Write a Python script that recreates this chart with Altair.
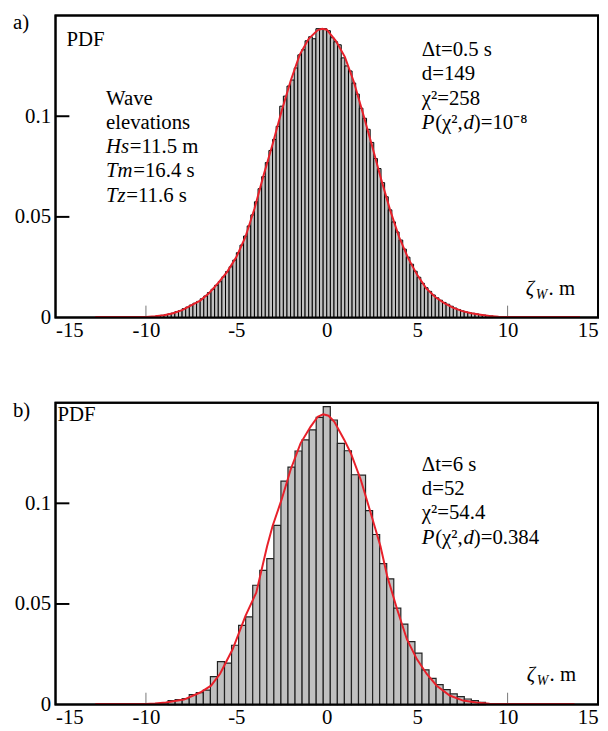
import altair as alt
import pandas as pd
import numpy as np

FONT = "Liberation Serif"

# ---------------- data ----------------
x_ticks = [-15, -10, -5, 0, 5, 10, 15]
y_ticks = [0, 0.05, 0.1]
inner_x_ticks = [-10, -5, 0, 5, 10]
inner_y_ticks = [0.05, 0.1]
x_range = [-15, 15]
y_range = [0, 0.15]

# panel a: histogram, bins of 0.2 m starting at -9.4 m
a_bin_start = -9.4
a_bin_width = 0.2
a_pdf = [
    0.0010, 0.0011, 0.0014, 0.0018, 0.0022, 0.0029, 0.0035, 0.0044, 0.0052, 0.0062,
    0.0071, 0.0080, 0.0093, 0.0107, 0.0124, 0.0140, 0.0160, 0.0178, 0.0202, 0.0228,
    0.0252, 0.0285, 0.0322, 0.0360, 0.0405, 0.0455, 0.0510, 0.0575, 0.0640, 0.0700,
    0.0770, 0.0830, 0.0885, 0.0950, 0.1050, 0.1100, 0.1150, 0.1180, 0.1240, 0.1305,
    0.1330, 0.1375, 0.1395, 0.1385, 0.1435, 0.1435, 0.1435,
    0.1425, 0.1390, 0.1370, 0.1355, 0.1290, 0.1250, 0.1225, 0.1165, 0.1110, 0.1040,
    0.0990, 0.0935, 0.0870, 0.0790, 0.0740, 0.0670, 0.0600, 0.0535, 0.0475, 0.0425,
    0.0385, 0.0340, 0.0300, 0.0265, 0.0230, 0.0200, 0.0170, 0.0148, 0.0130, 0.0112,
    0.0098, 0.0086, 0.0075, 0.0066, 0.0056, 0.0047, 0.0040, 0.0033, 0.0028, 0.0024,
    0.0021, 0.0018, 0.0015, 0.0012, 0.0010, 0.0008,
]
a_fit_x = [-12.8, -10.0, -9.5, -9.0, -8.5, -8.0, -7.5, -7.0, -6.5, -6.0,
           -5.5, -5.0, -4.5, -4.0, -3.5, -3.0, -2.5, -2.0, -1.5, -1.0,
           -0.5, -0.25, 0.0, 0.5, 1.0, 1.5, 2.0, 2.5, 3.0, 3.5,
           4.0, 4.5, 5.0, 5.5, 6.0, 6.5, 7.0, 7.5, 8.0, 8.5,
           9.0, 9.5, 10.0, 14.0]
a_fit_y = [0.0003, 0.0003, 0.0006, 0.0011, 0.0021, 0.0037, 0.0060, 0.0084, 0.0122, 0.0172,
           0.0228, 0.0300, 0.0400, 0.0540, 0.0705, 0.0860, 0.1025, 0.1175, 0.1305, 0.1385,
           0.1428, 0.1434, 0.1430, 0.1375, 0.1295, 0.1170, 0.1015, 0.0855, 0.0690, 0.0535,
           0.0400, 0.0295, 0.0212, 0.0145, 0.0102, 0.0072, 0.0048, 0.0032, 0.0021, 0.0014,
           0.0008, 0.0004, 0.0003, 0.0003]

# panel b: histogram, bins of 0.39 m, 45 bins centred on 0
b_bin_width = 0.39
b_bin_start = -0.195 - 22 * 0.39
b_pdf = [
    0.0020, 0.0025, 0.0030, 0.0050, 0.0060, 0.0072, 0.0139, 0.0214, 0.0206, 0.0295,
    0.0394, 0.0436, 0.0593, 0.0667, 0.0725, 0.0890, 0.1110, 0.1180, 0.1260, 0.1315,
    0.1365, 0.1427,
    0.1480,
    0.1414, 0.1298, 0.1261, 0.1142, 0.1140, 0.0964, 0.0845, 0.0700, 0.0625, 0.0479,
    0.0400, 0.0313, 0.0256, 0.0173, 0.0130, 0.0099, 0.0074, 0.0053, 0.0040, 0.0028,
    0.0020, 0.0011,
]
b_fit_x = [-12.8, -10.0, -9.5, -8.9, -7.9, -7.0, -6.4, -5.9, -5.2, -4.5,
           -3.9, -3.3, -3.0, -2.5, -2.0, -1.45, -0.9, -0.5, -0.2, 0.1,
           0.42, 0.97, 1.33, 1.88, 2.43, 2.97, 3.34, 3.89, 4.43, 4.98,
           5.53, 6.08, 6.8, 7.54, 8.27, 9.0, 9.5, 13.7]
b_fit_y = [0.0003, 0.0003, 0.0005, 0.0010, 0.0025, 0.0060, 0.0094, 0.0153, 0.0276, 0.0440,
           0.0556, 0.0787, 0.0886, 0.1018, 0.1167, 0.1298, 0.1380, 0.1430, 0.1442, 0.1435,
           0.1405, 0.1315, 0.1249, 0.1117, 0.0952, 0.0787, 0.0639, 0.0474, 0.0325, 0.0226,
           0.0152, 0.0094, 0.0045, 0.0020, 0.0011, 0.0004, 0.0003, 0.0003]

# ---------------- helpers ----------------
W, H = 548, 305
XS = alt.Scale(domain=x_range, nice=False, zero=False)
YS = alt.Scale(domain=y_range, nice=False, zero=False)
XAX = alt.Axis(values=x_ticks, title=None, ticks=False, domain=False, grid=False,
               labelFont=FONT, labelFontSize=21, labelColor="black", labelPadding=2,
               labelExpr="'' + datum.value", labelFlush=True)
YAX = alt.Axis(values=y_ticks, title=None, ticks=False, domain=False, grid=False,
               labelFont=FONT, labelFontSize=21, labelColor="black", labelPadding=5,
               labelExpr="'' + datum.value")
ONE = pd.DataFrame({"k": [0]})
FRAME = pd.DataFrame({"fx0": [x_range[0]], "fx1": [x_range[1]],
                      "fy0": [y_range[0]], "fy1": [y_range[1]]})


def hist_df(start, width, vals):
    x0 = start + width * np.arange(len(vals))
    return pd.DataFrame({"x0": x0, "x1": x0 + width, "pdf": vals, "base": 0.0})


def txt(s, x, y, italic=False, size=21, baseline="middle"):
    return alt.Chart(ONE).mark_text(
        text=s, align="left", baseline=baseline, font=FONT, fontSize=size,
        fontStyle="italic" if italic else "normal", color="black"
    ).encode(x=alt.value(x), y=alt.value(y))


def panel(hdf, fx, fy, stroke_w, stroke_c, texts):
    xt = alt.Chart(pd.DataFrame({"t": inner_x_ticks})).mark_rule(
        color="#777", strokeWidth=1).encode(
        x=alt.X("t:Q", scale=XS, axis=XAX), y=alt.value(H), y2=alt.value(H - 12))
    bars = alt.Chart(hdf).mark_rect(
        fill="#c0c0c0", stroke=stroke_c, strokeWidth=stroke_w, opacity=1).encode(
        x=alt.X("x0:Q", scale=XS, axis=XAX), x2="x1",
        y=alt.Y("pdf:Q", scale=YS, axis=YAX), y2="base")
    fit = alt.Chart(pd.DataFrame({"x": fx, "pdf": fy})).mark_line(
        color="#e8202a", strokeWidth=2).encode(
        x=alt.X("x:Q", scale=XS, axis=XAX), y=alt.Y("pdf:Q", scale=YS, axis=YAX))
    yt = alt.Chart(pd.DataFrame({"v": inner_y_ticks})).mark_rule(
        color="black", strokeWidth=2).encode(
        x=alt.value(0), x2=alt.value(14), y=alt.Y("v:Q", scale=YS, axis=YAX))
    frame = alt.Chart(FRAME).mark_rect(
        fill="white", fillOpacity=0, stroke="black", strokeWidth=2, strokeOpacity=1).encode(
        x=alt.X("fx0:Q", scale=XS, axis=XAX), x2="fx1",
        y=alt.Y("fy0:Q", scale=YS, axis=YAX), y2="fy1")
    return alt.layer(xt, bars, fit, yt, frame, *texts).properties(width=W, height=H)


def zeta(x, y):
    return [txt("ζ", x, y, italic=True),
            txt("W", x + 10, y + 6, italic=True, size=14),
            txt(". m", x + 23, y)]


def pline(x, y, tail):
    return [txt("P", x, y, italic=True),
            txt("(χ²,", x + 13.5, y),
            txt("d", x + 42, y, italic=True),
            txt(tail, x + 52.5, y)]


texts_a = [
    txt("a)", -43, -3, baseline="top"),
    txt("PDF", 11, 25),
    txt("Wave", 51, 84),
    txt("elevations", 51, 108.5),
    txt("Hs", 51, 133, italic=True), txt("=11.5 m", 75, 133),
    txt("Tm", 51, 157.5, italic=True), txt("=16.4 s", 78.5, 157.5),
    txt("Tz", 51, 182, italic=True), txt("=11.6 s", 71.5, 182),
    txt("Δt=0.5 s", 370, 35),
    txt("d=149", 370, 59.5),
    txt("χ²=258", 370, 84),
] + pline(370, 108.5, ")=10⁻⁸") + zeta(475, 276)

texts_b = [
    txt("b)", -43, -3, baseline="top"),
    txt("PDF", 2, 13),
    txt("Δt=6 s", 370, 63),
    txt("d=52", 370, 87.5),
    txt("χ²=54.4", 370, 112),
] + pline(370, 136.5, ")=0.384") + zeta(476, 275)

pa = panel(hist_df(a_bin_start, a_bin_width, a_pdf), a_fit_x, a_fit_y, 1.0, "#000000", texts_a)
pb = panel(hist_df(b_bin_start, b_bin_width, b_pdf), b_fit_x, b_fit_y, 1.2, "#222222", texts_b)

chart = alt.vconcat(pa, pb, spacing=58).properties(
    padding={"left": 4, "top": 0, "right": 0, "bottom": 0}
).configure_view(stroke="black", strokeWidth=2)

chart.save("out.html", embed_options={"renderer": "svg", "actions": False})
